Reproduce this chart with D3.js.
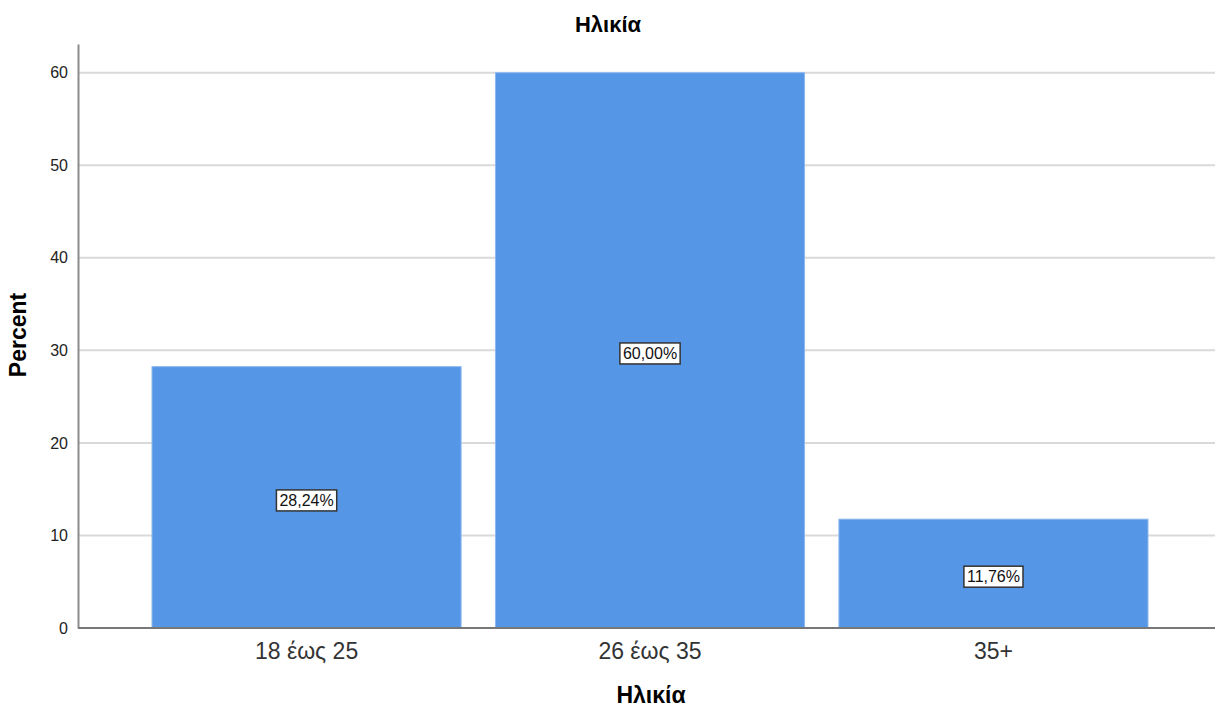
<!DOCTYPE html>
<html lang="el">
<head>
  <meta charset="UTF-8">
  <title>Ηλικία</title>
  <script src="https://cdn.jsdelivr.net/npm/d3@7"></script>
  <style>
    body { margin: 0; background: #fff; }
    text { font-family: "Liberation Sans", Arial, sans-serif; }
  </style>
</head>
<body>

<script>
  // data
  var categories = ['18 έως 25', '26 έως 35', '35+'];
  var percents = [28.24, 60.00, 11.76];
  var yTicks = [0, 10, 20, 30, 40, 50, 60];

  var W = 1215, H = 709;
  var svg = d3.select('body').append('svg').attr('width', W).attr('height', H);

  var x = d3.scaleBand().domain(categories).range([84, 1216])
    .paddingInner(0.1).paddingOuter(0.198);
  var y = d3.scaleLinear().domain([0, 63.1]).range([628, 44]);

  // gridlines
  svg.append('g').selectAll('line').data(yTicks.filter(function(d){ return d > 0; }))
    .enter().append('line')
    .attr('x1', 78).attr('x2', W)
    .attr('y1', function(d){ return y(d); })
    .attr('y2', function(d){ return y(d); })
    .attr('stroke', '#d9d9d9').attr('stroke-width', 2);

  // bars
  svg.append('g').selectAll('rect').data(percents)
    .enter().append('rect')
    .attr('x', function(d, i){ return x(categories[i]); })
    .attr('y', function(d){ return y(d); })
    .attr('width', x.bandwidth())
    .attr('height', function(d){ return y(0) - y(d); })
    .attr('fill', '#5596e6')
    .attr('stroke', '#8fb8ef').attr('stroke-width', 1);

  // y axis
  var yAxis = d3.axisLeft(y).tickValues(yTicks).tickSize(0).tickPadding(10);
  var gy = svg.append('g').attr('transform', 'translate(78,0)').call(yAxis);
  gy.select('.domain').attr('stroke', '#8c8c8c').attr('stroke-width', 2);
  gy.selectAll('text').attr('font-size', 16).attr('fill', '#222')
    .style('font-family', '"Liberation Sans", Arial, sans-serif');

  // x axis
  var xAxis = d3.axisBottom(x).tickSize(0).tickPadding(15);
  var gx = svg.append('g').attr('transform', 'translate(0,628)').call(xAxis);
  gx.select('.domain').attr('d', 'M78,0H' + W).attr('stroke', '#777').attr('stroke-width', 2);
  gx.selectAll('text').attr('font-size', 23).attr('fill', '#333')
    .style('font-family', '"Liberation Sans", Arial, sans-serif');

  // value labels in boxes
  var lab = svg.append('g').selectAll('g').data(percents).enter().append('g')
    .attr('transform', function(d, i){
      return 'translate(' + (x(categories[i]) + x.bandwidth() / 2) + ',' + ((y(0) + y(d)) / 2 + 3) + ')';
    });
  lab.append('text')
    .attr('text-anchor', 'middle').attr('dy', '0.35em')
    .attr('font-size', 16).attr('fill', '#111')
    .text(function(d){ return d.toFixed(2).replace('.', ',') + '%'; });
  lab.each(function(){
    var g = d3.select(this);
    var b = g.select('text').node().getBBox();
    g.insert('rect', 'text')
      .attr('x', b.x - 3).attr('y', b.y - 2)
      .attr('width', b.width + 6).attr('height', b.height + 4)
      .attr('fill', '#fff').attr('stroke', '#333').attr('stroke-width', 1.5);
  });

  // titles
  svg.append('text').attr('x', 608).attr('y', 32).attr('text-anchor', 'middle')
    .attr('font-size', 22).attr('font-weight', 'bold').text('Ηλικία');
  svg.append('text').attr('x', 651).attr('y', 703).attr('text-anchor', 'middle')
    .attr('font-size', 23).attr('font-weight', 'bold').text('Ηλικία');
  svg.append('text').attr('transform', 'translate(26,335) rotate(-90)')
    .attr('text-anchor', 'middle')
    .attr('font-size', 23).attr('font-weight', 'bold').text('Percent');
</script>

</body>
</html>
